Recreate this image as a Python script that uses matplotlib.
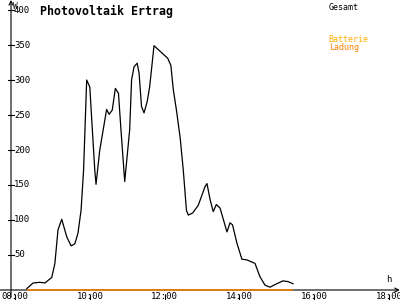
import matplotlib
matplotlib.use("Agg")
import matplotlib.pyplot as plt

# Gesamt (W) sampled from the reference curve
times = ["08:19", "08:29", "08:40", "08:48", "08:59", "09:04", "09:09", "09:15",
         "09:23", "09:30", "09:36", "09:41", "09:46", "09:50", "09:55", "10:00",
         "10:08", "10:10", "10:16", "10:27", "10:31", "10:36", "10:41", "10:46",
         "10:50", "10:56", "11:04", "11:07", "11:11", "11:16", "11:19", "11:23",
         "11:27", "11:32", "11:36", "11:43", "12:05", "12:10", "12:14", "12:19",
         "12:25", "12:30", "12:35", "12:38", "12:45", "12:54", "13:05", "13:08",
         "13:13", "13:18", "13:23", "13:29", "13:40", "13:45", "13:49", "13:56",
         "14:04", "14:12", "14:25", "14:33", "14:41", "14:49", "15:00", "15:10",
         "15:18", "15:26"]
gesamt = [2, 10, 11, 10, 18, 38, 86, 101,
          76, 63, 66, 81, 114, 171, 300, 290,
          171, 151, 200, 258, 251, 257, 288, 281,
          229, 155, 229, 300, 319, 324, 310, 262,
          253, 269, 290, 349, 331, 321, 286, 257,
          217, 171, 114, 107, 110, 121, 148, 152,
          129, 112, 122, 117, 83, 96, 93, 67,
          44, 43, 38, 19, 7, 4, 9, 13,
          12, 9]
ladung = [0] * len(times)

xticks = [8, 10, 12, 14, 16, 18]
yticks = [50, 100, 150, 200, 250, 300, 350, 400]

def hours(s):
    h, m = s.split(":")
    return int(h) + int(m) / 60

t = [hours(s) for s in times]

fig = plt.figure(figsize=(4, 3), dpi=100)
ax = fig.add_axes([0, 0, 1, 1])
ax.set_xlim(7.599, 18.294)
ax.set_ylim(-14.29, 414.29)
for s in ax.spines.values():
    s.set_visible(False)

yax_x = 7.893
mono = "DejaVu Sans Mono"

# axes with arrows
ax.annotate("", xy=(18.29, 0), xytext=(7.599, 0),
            arrowprops=dict(arrowstyle="->", lw=0.8, color="black",
                            shrinkA=0, shrinkB=0, mutation_scale=7), zorder=2)
ax.annotate("", xy=(yax_x, 414.3), xytext=(yax_x, -10),
            arrowprops=dict(arrowstyle="->", lw=0.8, color="black",
                            shrinkA=0, shrinkB=0, mutation_scale=7), zorder=2)

ax.set_xticks(xticks)
ax.set_xticklabels([])
ax.set_yticks(yticks)
ax.set_yticklabels([])
ax.tick_params(axis="x", direction="inout", length=8, width=0.8, bottom=True)
ax.tick_params(axis="y", length=0)
for v in yticks:
    ax.plot([yax_x - 0.08, yax_x + 0.08], [v, v], color="black", lw=0.8)
    ax.text(yax_x + 0.08, v, str(v), fontsize=6.5, family=mono,
            ha="left", va="center")
for h in xticks:
    ax.text(h, -3.5, f"{h:02d}:00", fontsize=6.5, family=mono,
            ha="center", va="top")

ax.plot(t, ladung, color="#ff8000", lw=1.1, solid_capstyle="butt", zorder=6)
ax.plot(t, gesamt, color="black", lw=0.9, zorder=5)

ax.text(8.0, 412, "W", fontsize=5.5, family=mono, ha="center", va="top")
ax.text(18.0, 8, "h", fontsize=6.5, family=mono, ha="center", va="bottom")
fig.text(0.10, 0.985, "Photovoltaik Ertrag", fontsize=8.4, family=mono,
         fontweight="bold", ha="left", va="top")
fig.text(0.822, 0.99, "Gesamt", fontsize=6, family=mono, color="black",
         ha="left", va="top")
fig.text(0.822, 0.885, "Batterie", fontsize=6, family=mono, color="#ffb000",
         ha="left", va="top")
fig.text(0.822, 0.858, "Ladung", fontsize=6, family=mono, color="#ff8000",
         ha="left", va="top")

fig.savefig("out.png", dpi=100)
